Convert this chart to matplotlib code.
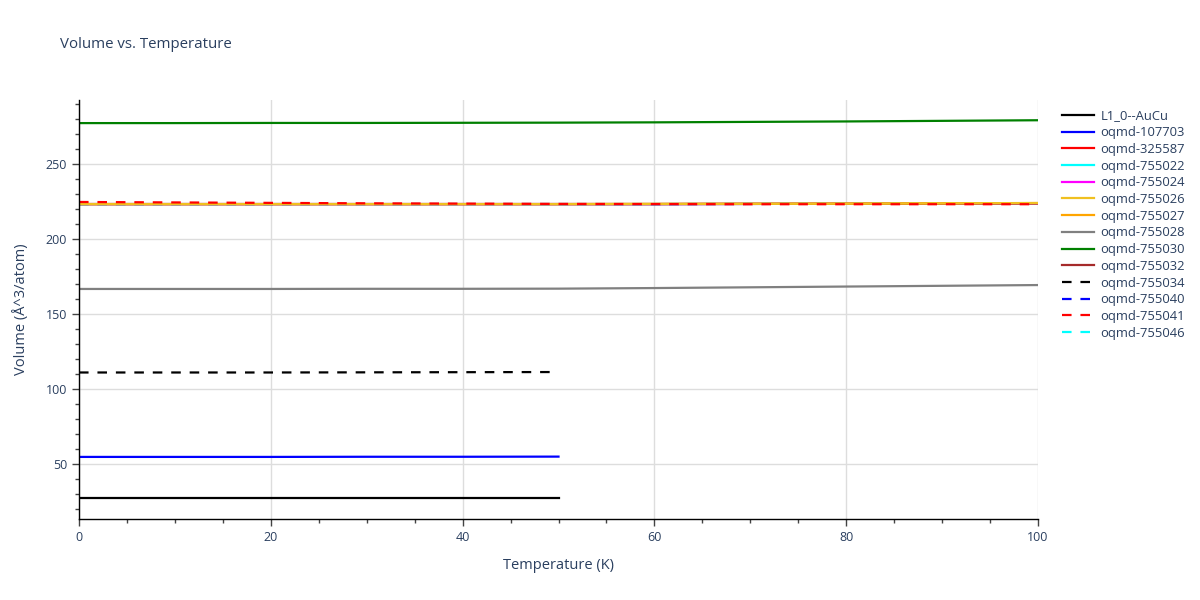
import matplotlib
matplotlib.use("Agg")
import matplotlib.pyplot as plt
from matplotlib.ticker import MultipleLocator

plt.rcParams['font.family'] = ['Open Sans', 'DejaVu Sans']

temps_short = [0, 10, 20, 30, 40, 50]
temps_long = [0, 10, 20, 30, 40, 50, 60, 70, 80, 90, 100]

names = ["L1_0--AuCu", "oqmd-107703", "oqmd-325587", "oqmd-755022", "oqmd-755024",
         "oqmd-755026", "oqmd-755027", "oqmd-755028", "oqmd-755030", "oqmd-755032",
         "oqmd-755034", "oqmd-755040", "oqmd-755041", "oqmd-755046"]

v_aucu = [27.3, 27.3, 27.3, 27.3, 27.3, 27.3]
v_107703 = [54.7, 54.7, 54.7, 54.8, 54.8, 54.9]
v_325587 = [223.3, 223.3, 223.3, 223.3, 223.3, 223.3, 223.3, 223.4, 223.5, 223.6, 223.7]
v_755022 = [223.3, 223.3, 223.3, 223.3, 223.3, 223.3, 223.3, 223.4, 223.5, 223.6, 223.7]
v_755024 = [223.3, 223.3, 223.3, 223.3, 223.3, 223.3, 223.3, 223.4, 223.5, 223.6, 223.7]
v_755026 = [223.3, 223.3, 223.3, 223.3, 223.3, 223.3, 223.4, 223.5, 223.6, 223.8, 224.0]
v_755027 = [223.3, 223.3, 223.3, 223.3, 223.3, 223.3, 223.4, 223.5, 223.6, 223.8, 224.0]
v_755028 = [166.7, 166.7, 166.7, 166.8, 166.8, 166.9, 167.3, 167.8, 168.3, 168.8, 169.3]
v_755030 = [277.3, 277.3, 277.4, 277.4, 277.5, 277.6, 277.8, 278.1, 278.4, 278.8, 279.2]
v_755032 = [223.3, 223.3, 223.3, 223.3, 223.3, 223.3, 223.3, 223.4, 223.5, 223.6, 223.7]
v_755034 = [111.0, 111.0, 111.0, 111.1, 111.2, 111.3]
v_755040 = [223.3, 223.3, 223.3, 223.3, 223.3, 223.3, 223.3, 223.4, 223.5, 223.6, 223.7]
v_755041 = [224.7, 224.4, 224.1, 223.8, 223.6, 223.4, 223.3, 223.2, 223.2, 223.2, 223.2]
v_755046 = [223.3, 223.3, 223.3, 223.3, 223.3, 223.3, 223.3, 223.4, 223.5, 223.6, 223.7]

series = [
    (names[0], temps_short, v_aucu, "black", "-"),
    (names[1], temps_short, v_107703, "blue", "-"),
    (names[2], temps_long, v_325587, "red", "-"),
    (names[3], temps_long, v_755022, "cyan", "-"),
    (names[4], temps_long, v_755024, "magenta", "-"),
    (names[5], temps_long, v_755026, "#f0c020", "-"),
    (names[6], temps_long, v_755027, "orange", "-"),
    (names[7], temps_long, v_755028, "gray", "-"),
    (names[8], temps_long, v_755030, "green", "-"),
    (names[9], temps_long, v_755032, "brown", "-"),
    (names[10], temps_short, v_755034, "black", "--"),
    (names[11], temps_long, v_755040, "blue", "--"),
    (names[12], temps_long, v_755041, "red", "--"),
    (names[13], temps_long, v_755046, "cyan", "--"),
]

text_color = "#2a3f5f"
fig = plt.figure(figsize=(12, 6), dpi=100)
ax = fig.add_axes([79/1200, 81/600, (1038-79)/1200, (519-100)/600])

order = [2, 3, 4, 9, 11, 13, 6, 5, 12, 7, 8, 10, 1, 0]
lines = {}
for i in order:
    name, x, y, c, ls = series[i]
    if ls == "--":
        ln, = ax.plot(x, y, color=c, lw=1.6, label=name, dashes=(4.3, 4.0))
    else:
        ln, = ax.plot(x, y, color=c, lw=1.6, label=name)
    lines[i] = ln

ax.set_xlim(0, 100)
ax.set_ylim(13.3, 292.7)
ax.xaxis.set_major_locator(MultipleLocator(20))
ax.xaxis.set_minor_locator(MultipleLocator(5))
ax.yaxis.set_major_locator(MultipleLocator(50))
ax.yaxis.set_minor_locator(MultipleLocator(10))
ax.grid(True, which="major", color="#dddddd", lw=1)
ax.set_axisbelow(True)
for s in ["top", "right"]:
    ax.spines[s].set_visible(False)
for s in ["left", "bottom"]:
    ax.spines[s].set_color("black")
    ax.spines[s].set_linewidth(1)
ax.tick_params(axis="both", which="major", length=5, color="#444444", labelcolor=text_color,
               labelsize=9, width=1)
ax.tick_params(axis="both", which="minor", length=3, color="#444444", width=1)
ax.set_xlabel("Temperature (K)", color=text_color, fontsize=10.5, labelpad=10)
ax.set_ylabel("Volume (Å^3/atom)", color=text_color, fontsize=10.5, labelpad=12)

fig.text(60/1200, 1 - 45/600, "Volume vs. Temperature", color=text_color, fontsize=10.8,
         va="center", ha="left")

handles = [lines[i] for i in range(len(series))]
leg = ax.legend(handles, names, loc="upper left", bbox_to_anchor=(1.02, 0.99),
                frameon=False, fontsize=9.4, labelcolor=text_color, handlelength=2.4,
                handletextpad=0.5, labelspacing=0.285, borderaxespad=0)

fig.savefig("out.png", dpi=100)
